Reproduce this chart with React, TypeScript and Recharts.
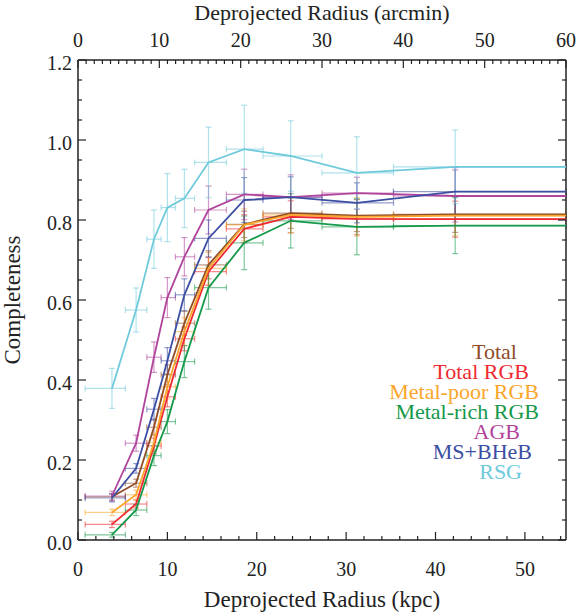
import { ScatterChart, Scatter, XAxis, YAxis, ErrorBar } from 'recharts';

const font = "'Liberation Serif', 'Times New Roman', serif";
const ink = '#222222';

// radial bins (kpc): centre and edges; the last bin runs past the right edge
const radius = [3.8, 6.5, 8.5, 10.0, 11.9, 14.6, 18.6, 23.8, 31.2, 42.2];
const binLow = [0.8, 5.3, 7.7, 9.3, 10.9, 13.05, 16.6, 20.7, 27.3, 35.3];
const binHigh = [5.3, 7.7, 9.3, 10.9, 13.05, 16.6, 20.7, 27.3, 35.3, 54.6];
const kpcMax = 54.6;
const arcminMax = 60;

const total = [0.108, 0.142, 0.282, 0.413, 0.542, 0.688, 0.789, 0.817, 0.811, 0.814];
const totalErr = [0.008, 0.01, 0.02, 0.025, 0.03, 0.035, 0.033, 0.038, 0.04, 0.045];
const totalRgb = [0.039, 0.09, 0.235, 0.358, 0.503, 0.671, 0.778, 0.808, 0.803, 0.802];
const totalRgbErr = [0.008, 0.01, 0.02, 0.025, 0.03, 0.035, 0.035, 0.04, 0.04, 0.045];
const metalPoor = [0.069, 0.113, 0.243, 0.383, 0.521, 0.679, 0.788, 0.813, 0.808, 0.811];
const metalPoorErr = [0.008, 0.012, 0.022, 0.03, 0.035, 0.04, 0.04, 0.045, 0.048, 0.05];
const metalRich = [0.013, 0.075, 0.211, 0.296, 0.446, 0.631, 0.743, 0.798, 0.783, 0.786];
const metalRichErr = [0.006, 0.014, 0.025, 0.03, 0.04, 0.054, 0.067, 0.068, 0.07, 0.07];
const agb = [0.11, 0.242, 0.457, 0.606, 0.708, 0.825, 0.864, 0.857, 0.867, 0.86];
const agbErr = [0.012, 0.02, 0.038, 0.05, 0.048, 0.06, 0.063, 0.056, 0.04, 0.065];
const msBheb = [0.105, 0.179, 0.327, 0.448, 0.613, 0.754, 0.85, 0.857, 0.843, 0.871];
const msBhebErr = [0.01, 0.012, 0.027, 0.033, 0.04, 0.046, 0.056, 0.051, 0.05, 0.06];
const rsg = [0.379, 0.575, 0.752, 0.831, 0.854, 0.944, 0.977, 0.96, 0.918, 0.933];
const rsgErr = [0.05, 0.055, 0.073, 0.085, 0.073, 0.088, 0.11, 0.088, 0.09, 0.092];

const kpcTicks = Array.from({ length: 28 }, (_, i) => i * 2);
const kpcLabels = [0, 10, 20, 30, 40, 50];
const arcTicks = Array.from({ length: 61 }, (_, i) => i);
const arcLabels = [0, 10, 20, 30, 40, 50, 60];
const compTicks = Array.from({ length: 25 }, (_, i) => (i * 5) / 100);
const compLabels = ['0.0', '0.2', '0.4', '0.6', '0.8', '1.0', '1.2'];

const series = [
  { name: 'Total', color: '#8f4c26', values: total, errs: totalErr },
  { name: 'Total RGB', color: '#ee2a30', values: totalRgb, errs: totalRgbErr },
  { name: 'Metal-poor RGB', color: '#fba62a', values: metalPoor, errs: metalPoorErr },
  { name: 'Metal-rich RGB', color: '#16994a', values: metalRich, errs: metalRichErr },
  { name: 'AGB', color: '#b0449c', values: agb, errs: agbErr },
  { name: 'MS+BHeB', color: '#3b4ea2', values: msBheb, errs: msBhebErr },
  { name: 'RSG', color: '#6fcadc', values: rsg, errs: rsgErr },
];

// legend text: right edge and baseline
const legendRight = [517, 529, 539, 539, 520, 532, 522];
const legendBaseline = [359, 379, 399, 419, 439, 459, 479];

const points = (values: number[], errs: number[]) =>
  radius.map((r, i) => ({ r, c: values[i], ex: [r - binLow[i], binHigh[i] - r], ey: errs[i] }));

// curves continue flat to the right-hand edge
const linePoints = (values: number[]) => [
  ...radius.map((r, i) => ({ r, c: values[i] })),
  { r: kpcMax, c: values[values.length - 1] },
];

// corners of the top/right frame so those axes get a domain
const frameCorners = [{ r: 0, c: 0 }, { r: arcminMax, c: 1.2 }];

const NoShape = () => <g />;

const isMajorComp = (v: number) => Math.round(v * 100) % 20 === 0;

const BottomTick = ({ x, y, payload }: any) => {
  const major = kpcLabels.includes(payload.value);
  return (
    <g>
      <line x1={x} x2={x} y1={y} y2={y - (major ? 8 : 4)} stroke={ink} strokeWidth={1.2} />
      {major && (
        <text x={x} y={y + 36} textAnchor="middle" fill={ink} fontSize={20} fontFamily={font}>
          {payload.value}
        </text>
      )}
    </g>
  );
};

const TopTick = ({ x, y, payload }: any) => {
  const major = arcLabels.includes(payload.value);
  return (
    <g>
      <line x1={x} x2={x} y1={y} y2={y + (major ? 8 : 4)} stroke={ink} strokeWidth={1.2} />
      {major && (
        <text x={x} y={y - 13} textAnchor="middle" fill={ink} fontSize={20} fontFamily={font}>
          {payload.value}
        </text>
      )}
    </g>
  );
};

const LeftTick = ({ x, y, payload }: any) => {
  const major = isMajorComp(payload.value);
  return (
    <g>
      <line x1={x} x2={x + (major ? 8 : 4)} y1={y} y2={y} stroke={ink} strokeWidth={1.2} />
      {major && (
        <text x={x - 6} y={y + 10} textAnchor="end" fill={ink} fontSize={20} fontFamily={font}>
          {compLabels[Math.round(payload.value * 5)]}
        </text>
      )}
    </g>
  );
};

const RightTick = ({ x, y, payload }: any) => {
  const major = isMajorComp(payload.value);
  return <line x1={x} x2={x - (major ? 8 : 4)} y1={y} y2={y} stroke={ink} strokeWidth={1.2} />;
};

const YTitle = (props: any) => {
  const vb = props.viewBox || { x: 0, y: 60, width: 78, height: 480 };
  const cx = vb.x + 20;
  const cy = vb.y + vb.height / 2;
  return (
    <text x={cx} y={cy} transform={`rotate(-90 ${cx} ${cy})`} textAnchor="middle" fill={ink} fontSize={23} fontFamily={font}>
      Completeness
    </text>
  );
};

const TopTitle = (props: any) => {
  const vb = props.viewBox || { x: 78, y: 0, width: 488, height: 60 };
  return (
    <text x={vb.x + vb.width / 2} y={vb.y + 20} textAnchor="middle" fill={ink} fontSize={22} fontFamily={font}>
      Deprojected Radius (arcmin)
    </text>
  );
};

const BottomTitle = (props: any) => {
  const vb = props.viewBox || { x: 78, y: 540, width: 488, height: 73 };
  return (
    <text x={vb.x + vb.width / 2} y={vb.y + vb.height - 6} textAnchor="middle" fill={ink} fontSize={23} fontFamily={font}>
      Deprojected Radius (kpc)
    </text>
  );
};

const axisLine = { stroke: ink, strokeWidth: 1.5 };

export default function App() {
  return (
    <div style={{ position: 'relative', width: 577, height: 613, background: '#fff' }}>
      <style>{'body{margin:0}'}</style>
      <ScatterChart width={577} height={613} margin={{ top: 0, right: 0, bottom: 0, left: 0 }}>
        <XAxis
          xAxisId="kpc" type="number" dataKey="r" domain={[0, kpcMax]} allowDataOverflow
          ticks={kpcTicks} interval={0} height={73} tickSize={0} tickMargin={0} tickLine={false}
          axisLine={axisLine} tick={BottomTick} label={BottomTitle}
        />
        <XAxis
          xAxisId="arcmin" orientation="top" type="number" dataKey="r" domain={[0, arcminMax]} allowDataOverflow
          ticks={arcTicks} interval={0} height={60} tickSize={0} tickMargin={0} tickLine={false}
          axisLine={axisLine} tick={TopTick} label={TopTitle}
        />
        <YAxis
          yAxisId="c" type="number" dataKey="c" domain={[0, 1.2]} allowDataOverflow
          ticks={compTicks} interval={0} width={78} tickSize={0} tickMargin={0} tickLine={false}
          axisLine={axisLine} tick={LeftTick} label={YTitle}
        />
        <YAxis
          yAxisId="right" orientation="right" type="number" dataKey="c" domain={[0, 1.2]} allowDataOverflow
          ticks={compTicks} interval={0} width={11} tickSize={0} tickMargin={0} tickLine={false}
          axisLine={axisLine} tick={RightTick}
        />
        <Scatter
          xAxisId="arcmin" yAxisId="right" data={frameCorners} shape={NoShape}
          isAnimationActive={false} legendType="none"
        />
        {series.map((s) => (
          <Scatter
            key={`${s.name}-err`} xAxisId="kpc" yAxisId="c"
            data={points(s.values, s.errs)} shape={NoShape} isAnimationActive={false}
          >
            <ErrorBar dataKey="ey" direction="y" width={3} stroke={s.color} strokeWidth={1.2} strokeOpacity={0.55} />
            <ErrorBar dataKey="ex" direction="x" width={3} stroke={s.color} strokeWidth={1.2} strokeOpacity={0.55} />
          </Scatter>
        ))}
        {series.map((s) => (
          <Scatter
            key={`${s.name}-line`} name={s.name} xAxisId="kpc" yAxisId="c"
            data={linePoints(s.values)} shape={NoShape}
            line={{ stroke: s.color, strokeWidth: 1.8 }} isAnimationActive={false}
          />
        ))}
      </ScatterChart>
      <div style={{ position: 'absolute', left: 0, top: 0, width: 577, height: 613, pointerEvents: 'none', fontFamily: font, fontSize: 22 }}>
        {series.map((s, i) => (
          <div
            key={s.name}
            style={{ position: 'absolute', right: 577 - legendRight[i], top: legendBaseline[i] - 16, lineHeight: '18px', color: s.color, whiteSpace: 'nowrap' }}
          >
            {s.name}
          </div>
        ))}
      </div>
    </div>
  );
}
